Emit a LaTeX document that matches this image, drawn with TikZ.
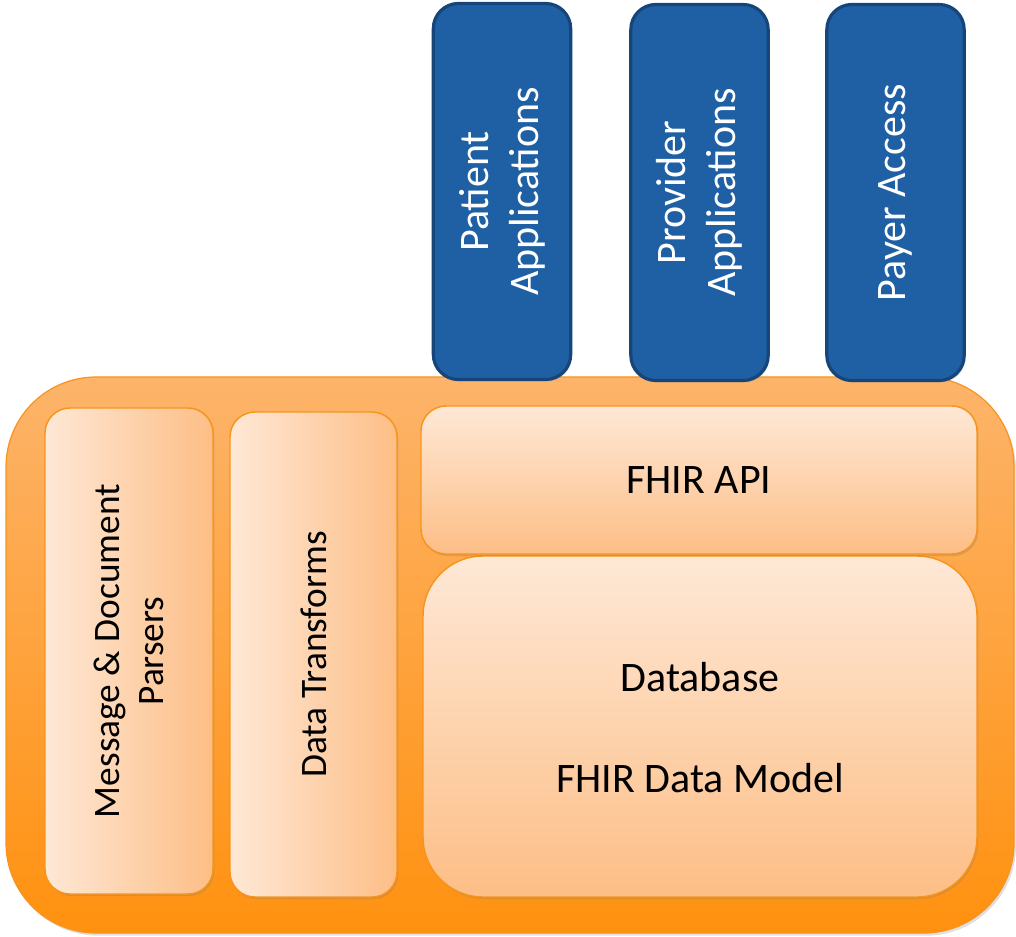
\documentclass[tikz,border=0pt]{standalone}
\usepackage{fontspec}
\setmainfont{Carlito}
\usetikzlibrary{shadows}
\definecolor{bluefill}{RGB}{31,96,164}
\definecolor{blueline}{RGB}{22,69,122}
\definecolor{outertop}{RGB}{253,180,106}
\definecolor{outerbot}{RGB}{255,145,15}
\definecolor{orangeline}{RGB}{247,148,30}
\definecolor{innerlight}{RGB}{254,232,214}
\definecolor{innerdark}{RGB}{253,190,134}
\tikzset{
  appbox/.style={draw=blueline, line width=2.4pt, fill=bluefill, rounded corners=18.75pt,
    minimum width=103pt, minimum height=282pt, inner sep=0pt,
    drop shadow={opacity=0.25, shadow xshift=1pt, shadow yshift=-1.5pt}},
  outerbox/.style={draw=orangeline, line width=0.9pt, top color=outertop, bottom color=outerbot,
    rounded corners=67.5pt, inner sep=0pt,
    drop shadow={opacity=0.25, shadow xshift=1.5pt, shadow yshift=-2pt}},
  vbox/.style={draw=orangeline, line width=1.1pt, left color=innerlight, right color=innerdark,
    rounded corners=18.75pt, inner sep=0pt,
    drop shadow={opacity=0.3, shadow xshift=1pt, shadow yshift=-1.5pt}},
  hbox/.style={draw=orangeline, line width=1.1pt, top color=innerlight, bottom color=innerdark,
    inner sep=0pt,
    drop shadow={opacity=0.3, shadow xshift=1pt, shadow yshift=-1.5pt}},
  lbl/.style={font=\fontsize{31.5}{37.5}\selectfont, align=center, inner sep=0pt},
  slbl/.style={font=\fontsize{28}{32.5}\selectfont, align=center, inner sep=0pt},
  wlbl/.style={lbl, text=white},
}
\begin{document}
\begin{tikzpicture}[x=0.75pt,y=-0.75pt]
\useasboundingbox (0,0) rectangle (1016,937);
% outer platform
\node[outerbox, minimum width=756pt, minimum height=417pt] (platform) at (510,655) {};
% application boxes
\node[appbox] (patient) at (502,191.5) {};
\node[appbox] (provider) at (699.5,192.5) {};
\node[appbox] (payer) at (895.5,192.5) {};
\node[wlbl, rotate=90] (patientT) at (patient.center) {Patient\\Applications};
\node[wlbl, rotate=90] (providerT) at (provider.center) {Provider\\Applications};
\node[wlbl, rotate=90] (payerT) at (payer.center) {Payer Access};
% inner boxes
\node[vbox, minimum width=126pt, minimum height=364.5pt] (parsers) at (129,651) {};
\node[vbox, minimum width=125.25pt, minimum height=363.75pt] (transforms) at (313.5,654.5) {};
\node[hbox, rounded corners=45pt, minimum width=415.5pt, minimum height=255.75pt] (database) at (700,726.5) {};
\node[hbox, rounded corners=18.75pt, minimum width=417pt, minimum height=111pt] (api) at (699,480) {};
\node[slbl, rotate=90] (parsersT) at (parsers.center) {Message \& Document\\Parsers};
\node[slbl, rotate=90] (transformsT) at (transforms.center) {Data Transforms};
\node[lbl] (apiT) at (api.center) {FHIR API};
\node[lbl] (dbT) at (700,677) {Database};
\node[lbl] (modelT) at (700,778) {FHIR Data Model};
\end{tikzpicture}
\end{document}
